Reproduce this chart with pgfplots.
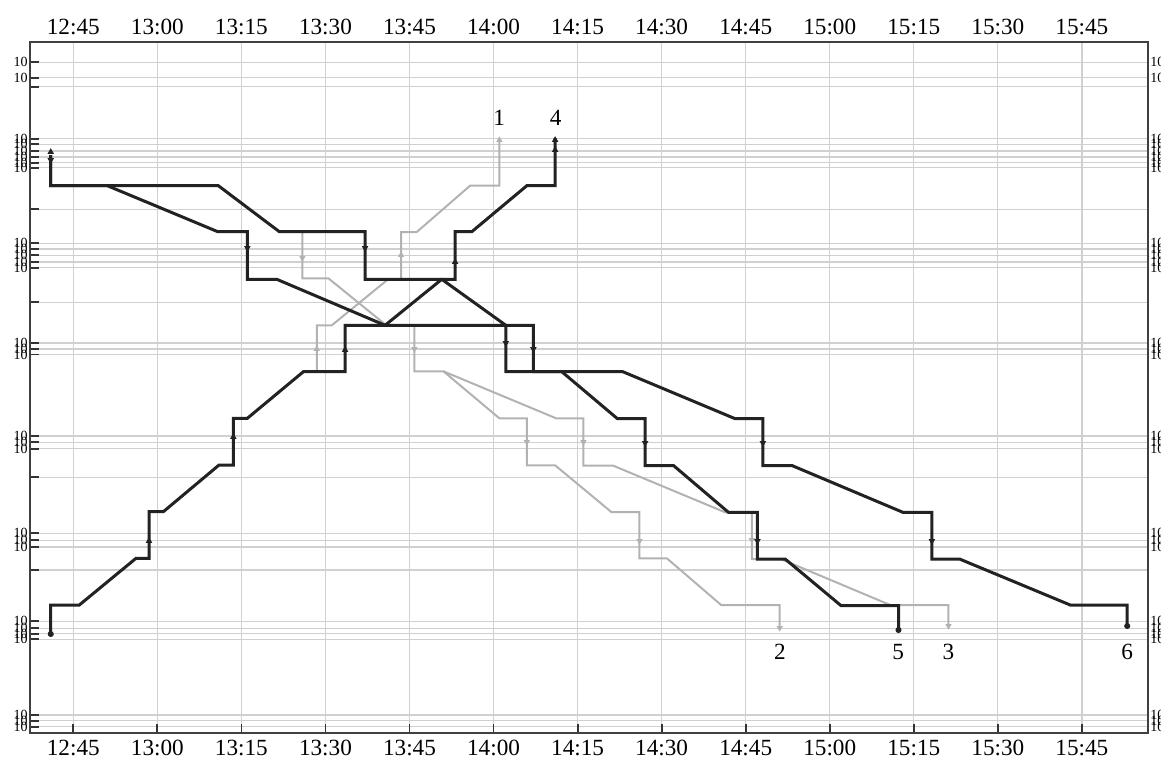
\documentclass[border=0pt]{standalone}
\usepackage{fontspec}
\setmainfont{Liberation Serif}
\usepackage{pgfplots}
\pgfplotsset{compat=1.18}
\usetikzlibrary{arrows.meta}

\definecolor{train}{HTML}{222222}
\definecolor{ghost}{HTML}{B2B2B2}
\definecolor{gridc}{HTML}{D0D0D0}

% x in minutes after 12:00, y = station position (top = 42, bottom = 733)
\pgfplotsset{
  graph/.style={
    width=559pt, height=345.5pt, scale only axis,
    xmin=37.27, xmax=236.8, ymin=42, ymax=733, y dir=reverse,
    xtick={45,60,...,225},
    xticklabels={12:45,13:00,13:15,13:30,13:45,14:00,14:15,14:30,14:45,15:00,15:15,15:30,15:45},
    ytick={62.3,77.7,86.7,138.7,144.3,151,157,162.7,167.7,209.3,243.3,249,255.3,262,267.7,302.3,
           343,349,354.5,436,442.2,448.8,477.2,533.3,540.3,547,570,621.3,628.3,633.7,639.2,715,720.7,726.7},
    yticklabels={10,10,{},10,10,10,10,10,10,{},10,10,10,10,10,{},
           10,10,10,10,10,10,{},10,10,10,{},10,10,10,10,10,10,10},
    /pgf/number format/assume math mode=true,
    xticklabel style={font=\fontsize{11.6}{12}\selectfont},
    yticklabel style={font=\fontsize{7}{7}\selectfont, inner sep=1pt},
  },
  dk/.style={train, line width=1.5pt},
  gr/.style={ghost, line width=1pt},
}

\begin{document}
\begin{tikzpicture}
\begin{axis}[graph,
    grid=major, grid style={gridc, line width=0.65pt},
    axis line style={black!75, line width=0.9pt},
    xtick pos=bottom, ytick pos=left, xticklabel pos=bottom, yticklabel pos=left,
    major tick length=4.7pt, tick style={black!80, line width=0.9pt},
    clip=false]

  % grey trains
  \addplot[gr] coordinates {(88.45,371.7) (88.45,325.3) (91.13,325.3) (101.18,279.3) (103.50,279.3)
    (103.50,232) (106.30,232) (115.81,185.7) (121.04,185.7) (121.04,140)};
  \addplot[gr] coordinates {(85.88,232) (85.88,278.3) (90.52,278.3) (100.86,325.3) (105.87,325.3)
    (105.87,371.3) (111.05,371.3) (121.04,418.3) (125.94,418.3) (125.94,465.3) (130.99,465.3)
    (141.02,512) (146.04,512) (146.04,558.3) (150.93,558.3) (160.62,605) (171.07,605) (171.07,626)};
  \addplot[gr] coordinates {(111.05,371.3) (131.17,418.3) (136.04,418.3) (136.04,465.5) (141.29,465.5)
    (161.33,512.3) (166.10,512.3) (166.10,559) (171.25,559) (190.79,605) (201.19,605) (201.19,625)};

  % dark trains
  \addplot[dk] coordinates {(40.97,155) (40.97,185.7) (51.07,185.7) (70.78,231.7) (76.06,231.7)
    (76.06,279.3) (81.31,279.3) (100.64,325.3) (127.11,325.3) (127.11,371.7) (143.07,371.7)
    (163.12,418.7) (168.07,418.7) (168.07,465.5) (173.24,465.5) (193.05,512.3) (198.23,512.3)
    (198.23,559) (203.16,559) (222.92,605) (233.09,605) (233.09,626)};
  \addplot[dk] coordinates {(40.97,155) (40.97,185.7) (70.88,185.7) (81.77,231.7) (97.07,231.7)
    (97.07,279.3) (110.76,279.3) (122.19,325.3) (122.19,371.7) (132.18,371.7) (142.11,418.7)
    (147.05,418.7) (147.05,465.5) (152.11,465.5) (161.92,512.3) (167.10,512.3) (167.10,559)
    (172.04,559) (181.99,605.5) (192.27,605.5) (192.27,630)};
  \addplot[dk] coordinates {(40.97,634) (40.97,605) (46.07,605) (56.19,558.3) (58.51,558.3)
    (58.51,511.7) (61.07,511.7) (71.01,465) (73.56,465) (73.56,418.3) (76.06,418.3) (86.06,371.7)
    (93.50,371.7) (93.50,325.3) (100.64,325.3) (110.76,279.3) (113.14,279.3) (113.14,231.7)
    (116.12,231.7) (125.94,185.7) (130.99,185.7) (130.99,138)};

  % direction markers on the station tracks
  \addplot[only marks, ghost, mark=triangle*, mark size=1.4pt] coordinates {
    (88.45,349) (103.50,255) (121.04,140)};
  \addplot[only marks, ghost, mark=triangle*, mark size=1.4pt, mark options={rotate=180}] coordinates {
    (85.88,258) (105.87,349) (125.94,442) (146.04,541) (136.04,442) (166.10,540) (171.07,628) (201.19,626)};
  \addplot[only marks, train, mark=triangle*, mark size=1.5pt] coordinates {
    (58.51,541) (73.56,437) (93.50,350) (113.14,262) (130.99,140) (130.99,150) (40.97,152)};
  \addplot[only marks, train, mark=triangle*, mark size=1.5pt, mark options={rotate=180}] coordinates {
    (76.06,248) (127.11,349) (168.07,443) (198.23,541) (97.07,248) (122.19,343) (147.05,443)
    (167.10,541) (40.97,160)};
  \addplot[only marks, train, mark=*, mark size=1.3pt] coordinates {
    (40.97,634) (192.27,630) (233.09,626)};

  \begin{scope}[font=\fontsize{11.6}{12}\selectfont]
    \node at (axis cs:121.0,118) {1};
    \node at (axis cs:131.1,118) {4};
    \node at (axis cs:171.1,652) {2};
    \node at (axis cs:192.2,652) {5};
    \node at (axis cs:201.2,652) {3};
    \node at (axis cs:233.1,652) {6};
  \end{scope}
\end{axis}
\begin{axis}[graph,
    axis line style={draw=none}, major tick length=0pt, tick style={draw=none},
    xticklabel pos=top, yticklabel pos=right]
\end{axis}
\pgfresetboundingbox
\path[use as bounding box] ([xshift=-15pt,yshift=-13.5pt]current axis.south west) rectangle ++(580.5pt,380pt);
\end{tikzpicture}
\end{document}
